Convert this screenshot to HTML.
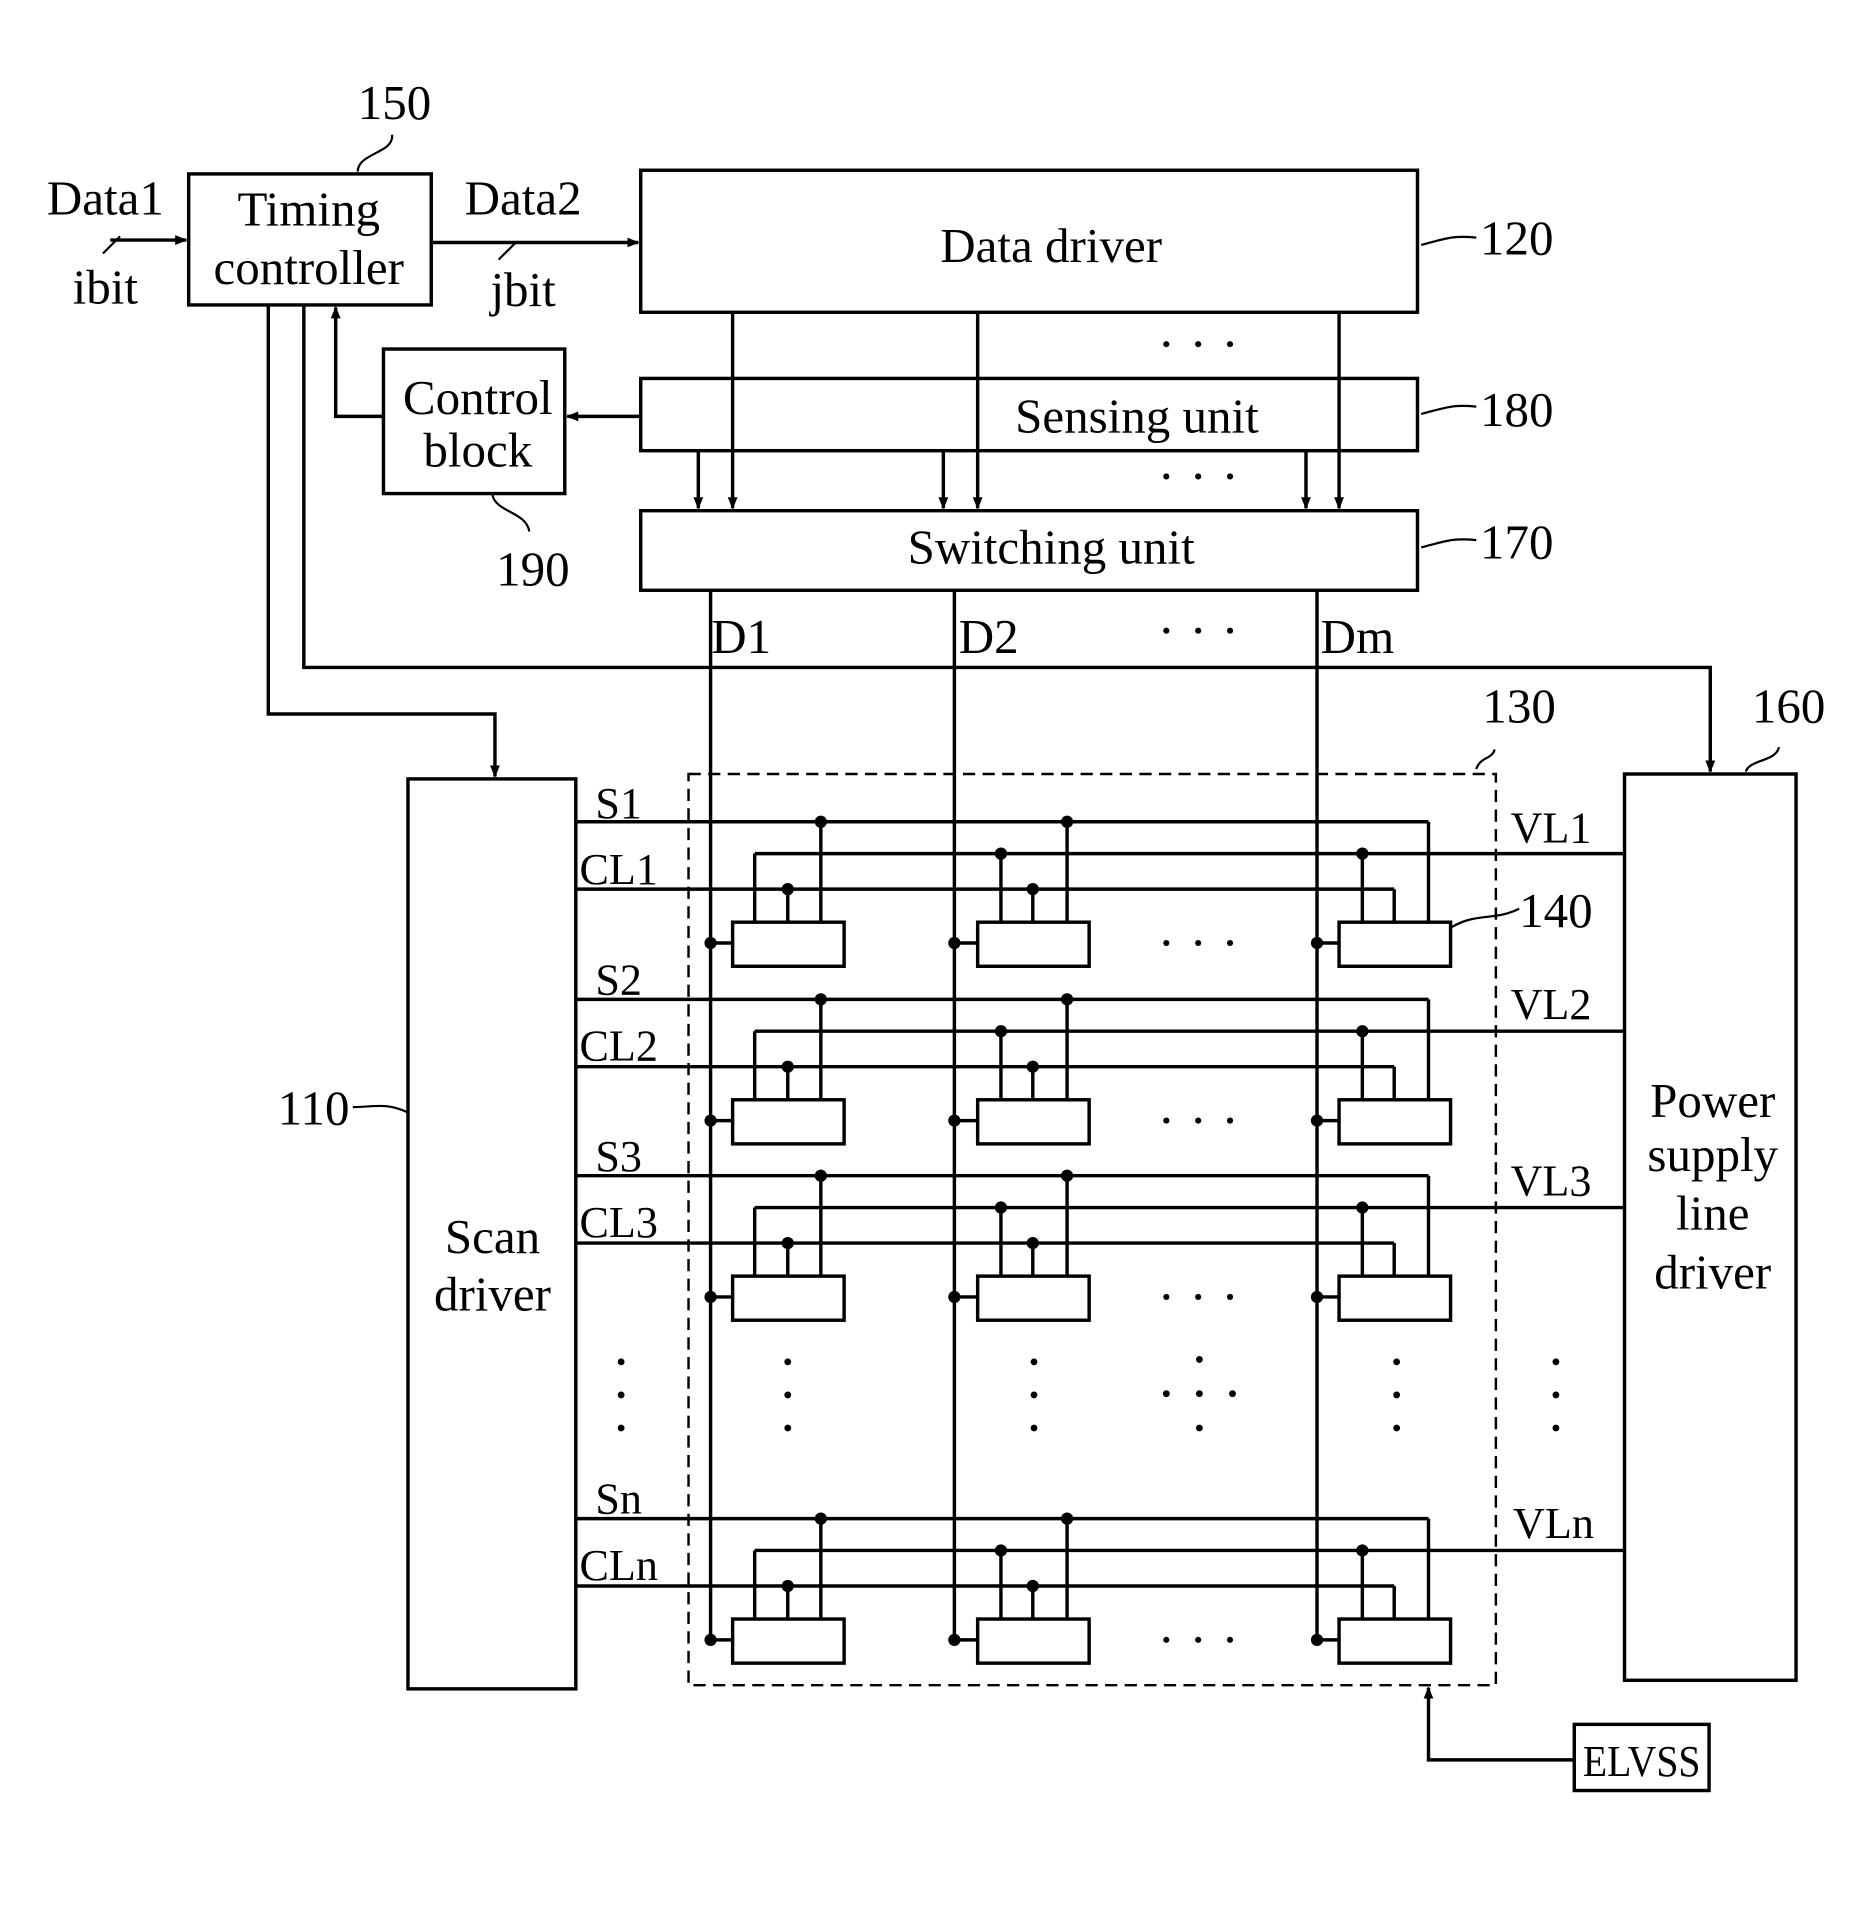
<!DOCTYPE html>
<html><head><meta charset="utf-8"><style>html,body{margin:0;padding:0;background:#fff}svg{display:block}text{font-family:"Liberation Serif",serif;fill:#000}</style></head>
<body>
<svg id="s" width="1872" height="1924" viewBox="0 0 1528 1571" preserveAspectRatio="none" xmlns="http://www.w3.org/2000/svg">
<defs><marker id="a" markerWidth="10" markerHeight="10" refX="9" refY="5" orient="auto" markerUnits="userSpaceOnUse"><path d="M0,1 L10,5 L0,9 z" fill="#000"/></marker></defs>
<g stroke="#000" stroke-width="2.8" fill="none">
<rect x="154" y="142" width="198" height="107"/>
<rect x="523" y="139" width="634" height="116"/>
<rect x="523" y="309" width="634" height="59"/>
<rect x="523" y="417" width="634" height="65"/>
<rect x="313" y="285" width="148" height="118"/>
<rect x="333" y="636" width="137" height="743"/>
<rect x="1326" y="632" width="140" height="740"/>
<rect x="1285" y="1408" width="110" height="54"/>
<rect x="562" y="632" width="659" height="744" stroke-dasharray="10,6" stroke-width="2"/>
<line x1="90" y1="196" x2="152" y2="196" marker-end="url(#a)"/>
<line x1="352" y1="198" x2="521" y2="198" marker-end="url(#a)"/>
<line x1="523" y1="340" x2="463" y2="340" marker-end="url(#a)"/>
<polyline points="313,340 274,340 274,251" marker-end="url(#a)"/>
<polyline points="219,249 219,583 404,583 404,634" marker-end="url(#a)"/>
<polyline points="248,249 248,545 1396,545 1396,630" marker-end="url(#a)"/>
<polyline points="1285,1437 1166,1437 1166,1378" marker-end="url(#a)"/>
<line x1="598" y1="255" x2="598" y2="415" marker-end="url(#a)"/>
<line x1="798" y1="255" x2="798" y2="415" marker-end="url(#a)"/>
<line x1="1093" y1="255" x2="1093" y2="415" marker-end="url(#a)"/>
<line x1="570" y1="368" x2="570" y2="415" marker-end="url(#a)"/>
<line x1="770" y1="368" x2="770" y2="415" marker-end="url(#a)"/>
<line x1="1066" y1="368" x2="1066" y2="415" marker-end="url(#a)"/>
<line x1="580" y1="482" x2="580" y2="1339"/>
<line x1="779" y1="482" x2="779" y2="1339"/>
<line x1="1075" y1="482" x2="1075" y2="1339"/>
<path d="M84,207 L98,193 M407,212 L421,198 M320,110 C322,125 292,125 292,140 M1160,200 C1180,195 1185,192 1205,194 M1160,338 C1180,333 1185,330 1205,332 M1160,447 C1180,442 1185,439 1205,441 M402,404 C404,418 430,418 432,434 M288,904 C305,904 315,900 332,908 M1205,628 C1208,618 1218,620 1220,612 M1425,630 C1428,620 1450,622 1452,610 M1185,757 C1205,745 1220,752 1240,742" stroke-width="1.8"/>
<g id="rows"></g>
</g>
<g fill="#000">
<circle cx="952" cy="281" r="2.5"/><circle cx="978" cy="281" r="2.5"/><circle cx="1004" cy="281" r="2.5"/>
<circle cx="952" cy="389" r="2.5"/><circle cx="978" cy="389" r="2.5"/><circle cx="1004" cy="389" r="2.5"/>
<circle cx="952" cy="515" r="2.5"/><circle cx="978" cy="515" r="2.5"/><circle cx="1004" cy="515" r="2.5"/>
<g id="vd"></g>
</g>
<g font-size="40" text-anchor="middle">
<text x="86" y="175">Data1</text><text x="86" y="248">ibit</text>
<text x="252" y="184">Timing</text><text x="252" y="232">controller</text>
<text x="427" y="175">Data2</text><text x="427" y="250">jbit</text>
<text x="322" y="97">150</text>
<text x="858" y="214">Data driver</text>
<text x="928" y="353">Sensing unit</text>
<text x="858" y="460">Switching unit</text>
<text x="390" y="338">Control</text><text x="390" y="381">block</text>
<text x="435" y="478">190</text>
<text x="1238" y="208">120</text><text x="1238" y="348">180</text><text x="1238" y="456">170</text>
<text x="605" y="533">D1</text><text x="807" y="533">D2</text><text x="1108" y="533">Dm</text>
<text x="1240" y="590">130</text><text x="1460" y="590">160</text>
<text x="256" y="918">110</text><text x="1270" y="757">140</text>
<text x="402" y="1023">Scan</text><text x="402" y="1070">driver</text>
<text x="1398" y="912">Power</text><text x="1398" y="956">supply</text><text x="1398" y="1004">line</text><text x="1398" y="1052">driver</text>
<text x="1340" y="1450" font-size="36" textLength="96" lengthAdjust="spacingAndGlyphs">ELVSS</text>
<g font-size="36">
<text x="505" y="668">S1</text><text x="505" y="722">CL1</text><text x="1266" y="688">VL1</text>
<text x="505" y="812">S2</text><text x="505" y="866">CL2</text><text x="1266" y="832">VL2</text>
<text x="505" y="956">S3</text><text x="505" y="1010">CL3</text><text x="1266" y="976">VL3</text>
<text x="505" y="1236">Sn</text><text x="505" y="1290">CLn</text><text x="1268" y="1256">VLn</text>
</g>
</g>
</svg>
<script>
var R=document.getElementById('rows'),V=document.getElementById('vd'),h='',d='';
function L(a,b,c,e){h+='<line x1="'+a+'" y1="'+b+'" x2="'+c+'" y2="'+e+'"/>';}
function D(x,y){d+='<circle cx="'+x+'" cy="'+y+'" r="5"/>';}
[671,816,960,1240].forEach(function(S){
 var VL=S+26,CL=S+55,bt=S+82,bb=S+118,dy=S+99;
 L(470,S,1166,S);L(1166,S,1166,bt);L(616,VL,1326,VL);L(616,VL,616,bt);L(470,CL,1138,CL);L(1138,CL,1138,bt);
 [[598,580,670,643,null],[798,779,871,843,817],[1093,1075,null,null,1112]].forEach(function(c){
  h+='<rect x="'+c[0]+'" y="'+bt+'" width="91" height="36"/>';
  L(c[1],dy,c[0],dy);D(c[1],dy);
  if(c[2]){L(c[2],S,c[2],bt);D(c[2],S);}
  if(c[3]){L(c[3],CL,c[3],bt);D(c[3],CL);}
  if(c[4]){L(c[4],VL,c[4],bt);D(c[4],VL);}
 });
 [952,978,1004].forEach(function(x){d+='<circle cx="'+x+'" cy="'+(dy)+'" r="2.5"/>';});
});
[[507,1],[643,1],[844,1],[1140,1],[1270,1]].forEach(function(p){[1112,1139,1166].forEach(function(y){d+='<circle cx="'+p[0]+'" cy="'+y+'" r="2.8"/>';});});
[[979,1110],[952,1138],[979,1138],[1006,1138],[979,1166]].forEach(function(p){d+='<circle cx="'+p[0]+'" cy="'+p[1]+'" r="2.8"/>';});
R.innerHTML=h;V.innerHTML=d;
</script>
</body></html>
